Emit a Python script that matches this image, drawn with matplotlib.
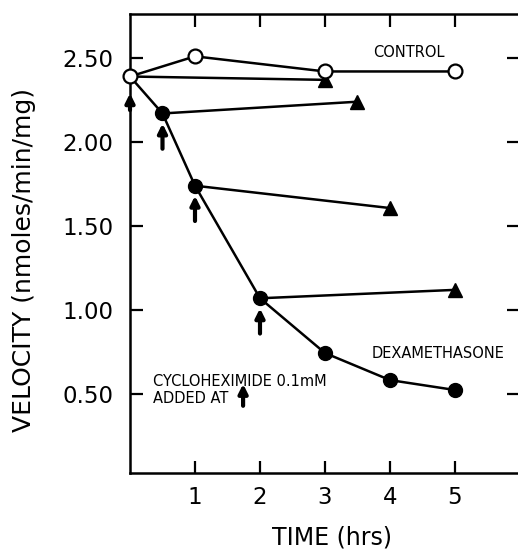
import matplotlib
matplotlib.use("Agg")
import matplotlib.pyplot as plt

# control (open circles)
ctrl_time = [0, 1, 3, 5]
ctrl_vel = [2.39, 2.51, 2.42, 2.42]

# dexamethasone (filled circles); first point is the shared open circle
dex_time = [0, 0.5, 1, 2, 3, 4, 5]
dex_vel = [2.39, 2.17, 1.74, 1.07, 0.744, 0.583, 0.524]

# cycloheximide added at these times (triangles at the end)
chx_add_time = [0, 0.5, 1, 2]
chx_end_time = [3, 3.5, 4, 5]
chx_end_vel = [2.37, 2.24, 1.607, 1.12]

y_ticks = [0.5, 1.0, 1.5, 2.0, 2.5]
y_ticklabels = ["0.50", "1.00", "1.50", "2.00", "2.50"]
x_ticks = [1, 2, 3, 4, 5]

fig = plt.figure(figsize=(5.18, 5.5), dpi=100)
ax = fig.add_axes([130 / 518, 77 / 550, 389 / 518, 459 / 550])
ax.set_xlim(0, 5.985)
ax.set_ylim(0.03, 2.762)

lw = 1.8
dex_lookup = dict(zip(dex_time, dex_vel))

# cycloheximide lines
for t0, t1, v1 in zip(chx_add_time, chx_end_time, chx_end_vel):
    ax.plot([t0, t1], [dex_lookup[t0], v1], color="black", lw=lw, zorder=2)
    ax.plot([t1], [v1], marker="^", ms=10, color="black", zorder=3)

# dexamethasone curve
ax.plot(dex_time, dex_vel, color="black", lw=lw, zorder=2)
ax.plot(dex_time[1:], dex_vel[1:], "o", ms=10, color="black", zorder=4)

# control curve
ax.plot(ctrl_time, ctrl_vel, color="black", lw=lw, marker="o", ms=10,
        mfc="white", mec="black", mew=1.6, zorder=5, clip_on=False)

# arrows marking cycloheximide addition
arrow_kw = dict(arrowstyle="-|>", lw=3, color="black",
                mutation_scale=13, shrinkA=0, shrinkB=0)
for i, t in enumerate(chx_add_time):
    v = dex_lookup[t]
    tip, tail = (0.10, 0.20) if i == 0 else (0.06, 0.21)
    ax.annotate("", xy=(t, v - tip), xytext=(t, v - tail),
                arrowprops=arrow_kw, annotation_clip=False)

ax.text(3.74, 2.53, "CONTROL", fontsize=10.5, va="center", ha="left")
ax.text(3.72, 0.744, "DEXAMETHASONE", fontsize=10.5, va="center", ha="left")
ax.text(0.35, 0.577, "CYCLOHEXIMIDE 0.1mM", fontsize=10.5, va="center", ha="left")
ax.text(0.35, 0.476, "ADDED AT", fontsize=10.5, va="center", ha="left")
ax.annotate("", xy=(1.74, 0.56), xytext=(1.74, 0.43), arrowprops=arrow_kw)

ax.set_xticks(x_ticks)
ax.set_xticklabels([str(t) for t in x_ticks])
ax.set_yticks(y_ticks)
ax.set_yticklabels(y_ticklabels)
ax.tick_params(direction="in", length=9, width=1.6, labelsize=16.5,
               top=True, right=True)
ax.tick_params(axis="y", pad=12)
ax.tick_params(axis="x", pad=9)
ax.spines["right"].set_visible(False)
for s in ("left", "bottom", "top"):
    ax.spines[s].set_linewidth(1.8)

ax.set_xlabel("TIME (hrs)", fontsize=17)
ax.xaxis.set_label_coords(0.52, -0.115)
ax.set_ylabel("VELOCITY (nmoles/min/mg)", fontsize=18)
ax.yaxis.set_label_coords(-0.242, 0.464)

fig.savefig("out.png", dpi=100)
